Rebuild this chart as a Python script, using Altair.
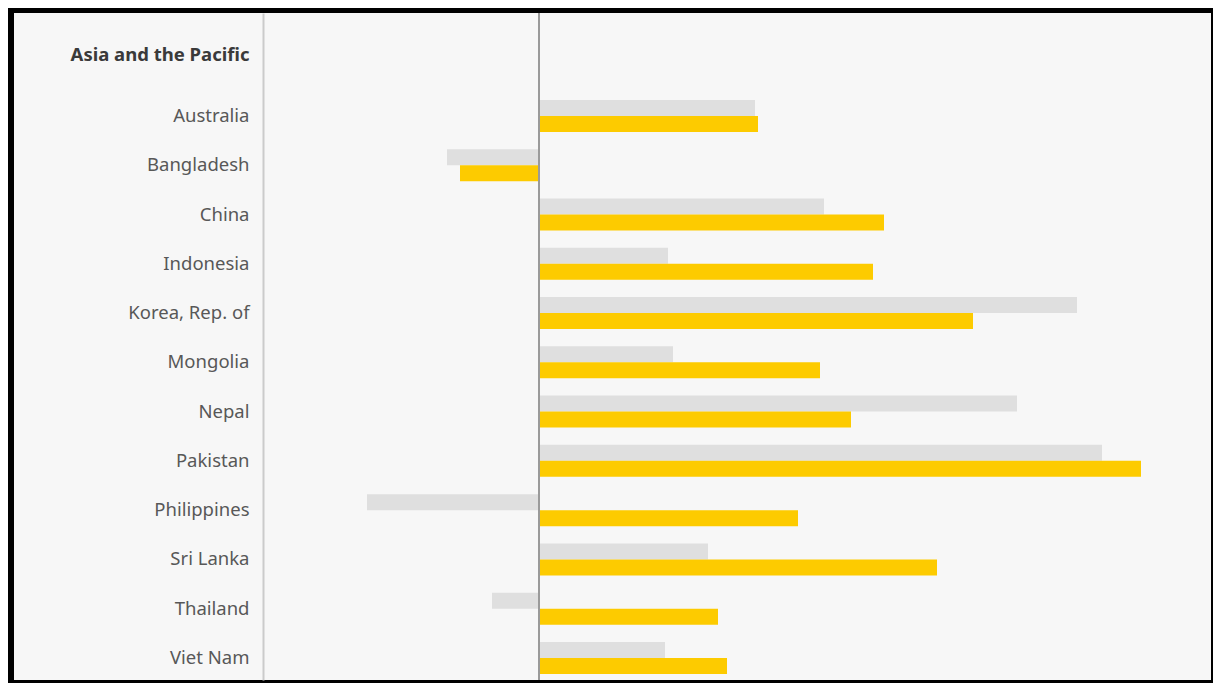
import altair as alt
import pandas as pd

countries = ["Australia", "Bangladesh", "China", "Indonesia", "Korea, Rep. of",
             "Mongolia", "Nepal", "Pakistan", "Philippines", "Sri Lanka",
             "Thailand", "Viet Nam"]
series_names = ["Earlier period", "Later period"]
earlier = [2.16, -0.92, 2.85, 1.29, 5.38, 1.34, 4.78, 5.63, -1.72, 1.69, -0.47, 1.26]
later = [2.19, -0.79, 3.45, 3.34, 4.34, 2.81, 3.12, 6.02, 2.59, 3.98, 1.79, 1.88]
group_title = "Asia and the Pacific"

rows = []
for c, a, b in zip(countries, earlier, later):
    rows.append({"country": c, "series": series_names[0], "value": a})
    rows.append({"country": c, "series": series_names[1], "value": b})
df = pd.DataFrame(rows)

FONT = "Noto Sans"

x_scale = alt.Scale(domain=[-5.25, 6.72], nice=False, zero=False)

bars = alt.Chart(df).mark_bar().encode(
    y=alt.Y("country:N", sort=countries,
            scale=alt.Scale(paddingInner=0.3505, paddingOuter=0.944, align=0.935),
            axis=alt.Axis(title=group_title, titleAngle=0, titleAlign="right",
                          titleBaseline="middle", titleX=-14, titleY=41,
                          titleFont=FONT, titleFontSize=18.5, titleFontWeight="bold",
                          titleColor="#3a3a3a",
                          labelFont=FONT, labelFontSize=18.5, labelColor="#585858",
                          labelPadding=14, ticks=False, offset=-249,
                          domainColor="#cbcbcb", domainWidth=2, grid=False)),
    yOffset=alt.YOffset("series:N", sort=series_names,
                        scale=alt.Scale(paddingInner=0, paddingOuter=0)),
    x=alt.X("value:Q", scale=x_scale, axis=None),
    color=alt.Color("series:N", sort=series_names,
                    scale=alt.Scale(domain=series_names, range=["#dfdfdf", "#fdcb00"]),
                    legend=None),
)

zero = alt.Chart(df).mark_rule(color="#9a9a9a", strokeWidth=1.5).encode(
    x=alt.datum(0, scale=x_scale)
)

chart = alt.layer(bars, zero).properties(
    width=1197, height=667,
    autosize=alt.AutoSizeParams(type="none"),
    padding={"left": 6, "top": 5, "right": 2, "bottom": 3},
    background="#000000",
).configure_view(fill="#f7f7f7", stroke=None)

chart.save("out.html", embed_options={"renderer": "svg", "actions": False})
